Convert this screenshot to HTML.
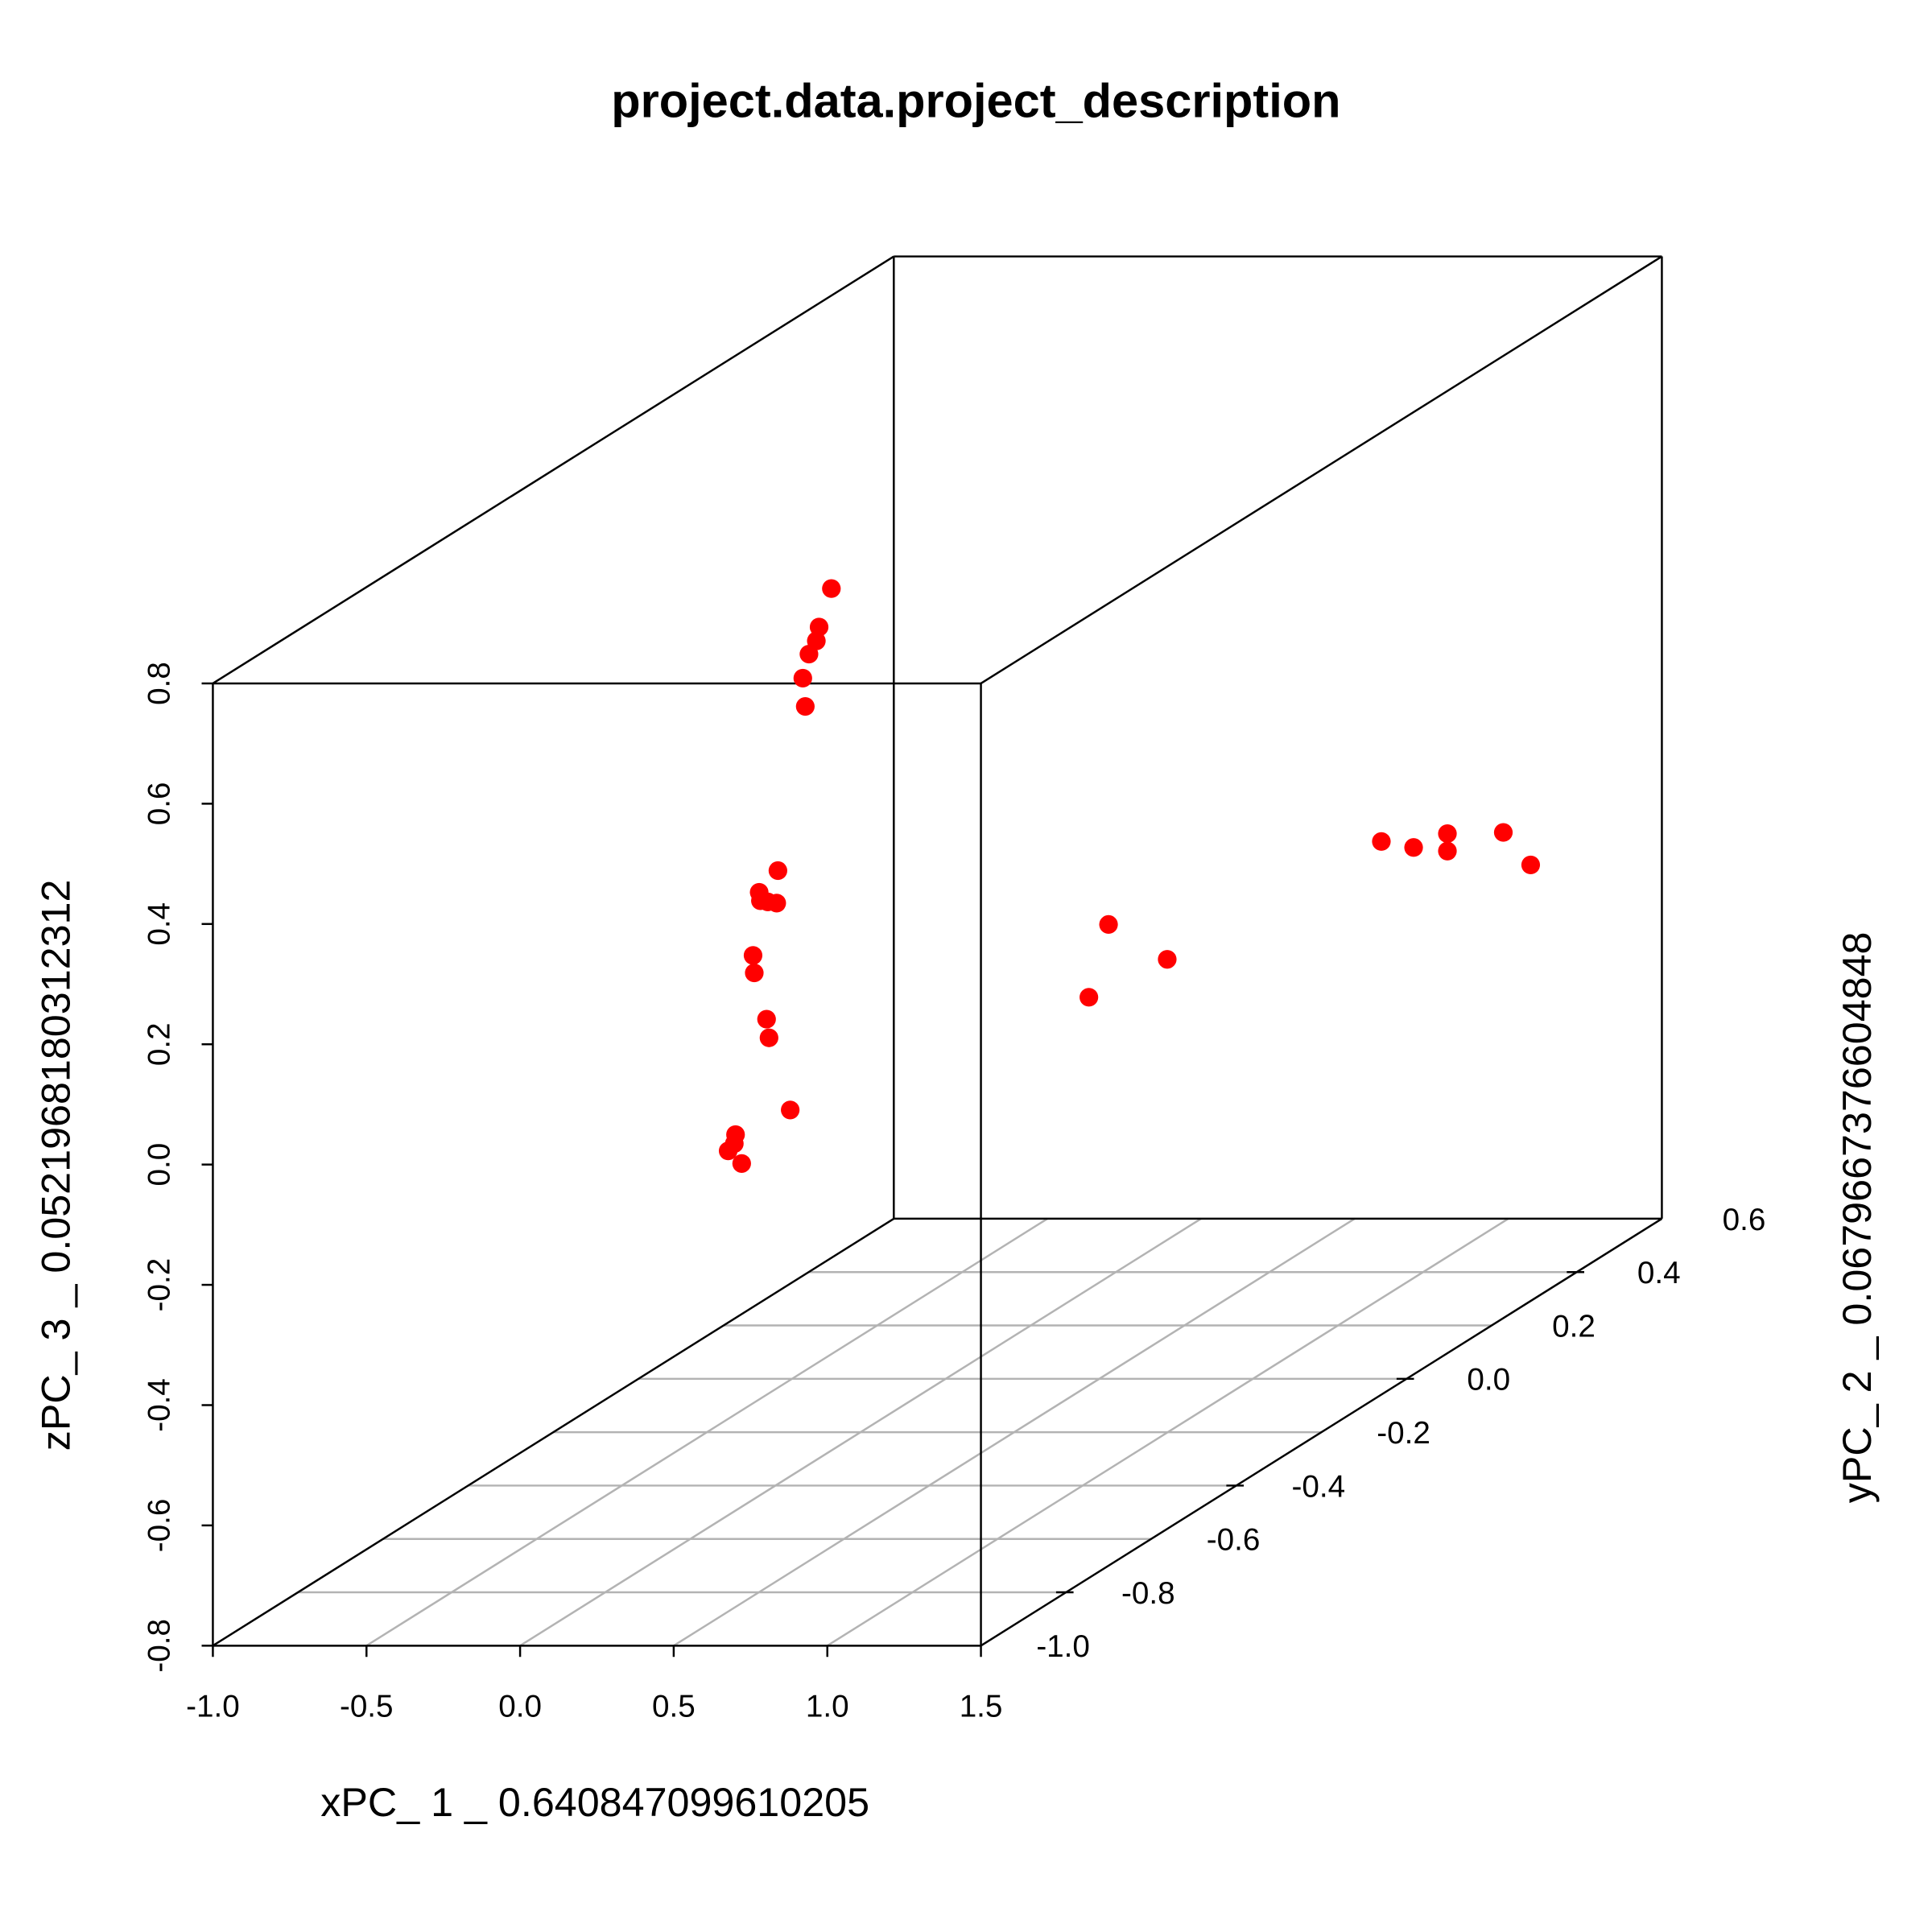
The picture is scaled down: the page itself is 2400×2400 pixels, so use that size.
<!DOCTYPE html>
<html><head><meta charset="utf-8"><style>
html,body{margin:0;padding:0;background:#fff;}
svg{display:block;font-family:"Liberation Sans",Arial,sans-serif;}
</style></head><body>
<svg id="chart" width="2400" height="2400" viewBox="0 0 1552 1552" xmlns="http://www.w3.org/2000/svg">
<rect width="1552" height="1552" fill="#fff"/>
<text x="784" y="94" text-anchor="middle" font-size="38.5" font-weight="bold">project.data.project_description</text>
<g id="grid" stroke="#b3b3b3" stroke-width="1.6"></g>
<g id="box" stroke="#000" stroke-width="1.6" fill="none"></g>
<g id="axes" font-size="25"></g>
<g id="points"></g>
<text x="478" y="1459" text-anchor="middle" font-size="32.5">xPC_ 1 _ 0.640847099610205</text>
<text transform="translate(56,936) rotate(-90)" text-anchor="middle" font-size="32.5">zPC_ 3 _ 0.0521968180312312</text>
<text transform="translate(1503,978) rotate(-90)" text-anchor="middle" font-size="32.5">yPC_ 2 _ 0.0679667376604848</text>
</svg>
<script>
const xTicks = [-1.0,-0.5,0.0,0.5,1.0,1.5];
const yTicks = [-1.0,-0.8,-0.6,-0.4,-0.2,0.0,0.2,0.4,0.6];
const zTicks = [-0.8,-0.6,-0.4,-0.2,0.0,0.2,0.4,0.6,0.8];
const xLabels = ["-1.0","-0.5","0.0","0.5","1.0","1.5"];
const yLabels = ["-1.0","-0.8","-0.6","-0.4","-0.2","0.0","0.2","0.4","0.6"];
const zLabels = ["-0.8","-0.6","-0.4","-0.2","0.0","0.2","0.4","0.6","0.8"];
const xVals = [-0.372,-0.412,-0.421,-0.445,-0.465,-0.457,-0.546,-0.607,-0.603,-0.579,-0.550,-0.627,-0.623,-0.583,-0.575,-0.506,-0.684,-0.688,-0.708,-0.664,0.864,0.969,1.079,1.079,1.261,1.350,-0.024,0.167,-0.088];
const yVals = [0,0,0,0,0,0,0,0,0,0,0,0,0,0,0,0,0,0,0,0,0.4,0.4,0.4,0.4,0.4,0.4,0.4,0.4,0.4];
const zVals = [0.514,0.450,0.427,0.405,0.365,0.318,0.045,0.009,-0.005,-0.007,-0.009,-0.096,-0.125,-0.202,-0.233,-0.353,-0.394,-0.409,-0.421,-0.442,-0.084,-0.094,-0.071,-0.100,-0.069,-0.123,-0.222,-0.280,-0.343];

const X0=171,X1=788,ZB=1322,ZT=549,DX=547,DY=-343;
const xMin=-1,xMax=1.5,yMin=-1,yMax=0.6,zMin=-0.8,zMax=0.8;
function px(x,y){return X0+(x-xMin)/(xMax-xMin)*(X1-X0)+(y-yMin)/(yMax-yMin)*DX;}
function py(z,y){return ZB-(z-zMin)/(zMax-zMin)*(ZB-ZT)+(y-yMin)/(yMax-yMin)*DY;}
const NS="http://www.w3.org/2000/svg";
function mk(tag,attrs,parent){const e=document.createElementNS(NS,tag);for(const k in attrs)e.setAttribute(k,attrs[k]);parent.appendChild(e);return e;}
const grid=document.getElementById('grid'),box=document.getElementById('box'),axes=document.getElementById('axes'),pts=document.getElementById('points');

for(let i=1;i<yTicks.length-1;i++){
  const y=yTicks[i];
  const l=mk('line',{x1:px(xMin,y),y1:py(zMin,y),x2:px(xMax,y),y2:py(zMin,y)},grid);
  
  
}
for(let i=1;i<xTicks.length-1;i++){
  const x=xTicks[i];
  const l=mk('line',{x1:px(x,yMin),y1:py(zMin,yMin),x2:px(x,yMax),y2:py(zMin,yMax)},grid);
  
  
}
const segs=[
 [[xMin,yMin,zMin],[xMax,yMin,zMin]],[[xMin,yMin,zMax],[xMax,yMin,zMax]],
 [[xMin,yMin,zMin],[xMin,yMin,zMax]],[[xMax,yMin,zMin],[xMax,yMin,zMax]],
 [[xMin,yMin,zMax],[xMin,yMax,zMax]],[[xMax,yMin,zMax],[xMax,yMax,zMax]],
 [[xMin,yMax,zMax],[xMax,yMax,zMax]],[[xMin,yMax,zMin],[xMax,yMax,zMin]],
 [[xMin,yMax,zMin],[xMin,yMax,zMax]],[[xMax,yMax,zMin],[xMax,yMax,zMax]],
 [[xMin,yMin,zMin],[xMin,yMax,zMin]],[[xMax,yMin,zMin],[xMax,yMax,zMin]]];
segs.forEach(s=>{
  const l=mk('line',{x1:px(s[0][0],s[0][1]),y1:py(s[0][2],s[0][1]),x2:px(s[1][0],s[1][1]),y2:py(s[1][2],s[1][1])},box);
  
  
});
xTicks.forEach((x,i)=>{
  const sx=px(x,yMin);
  const t=mk('line',{x1:sx,y1:ZB,x2:sx,y2:ZB+9,stroke:'#000','stroke-width':1.6},axes);
  
  
  const lb=mk('text',{x:sx,y:ZB+57,'text-anchor':'middle'},axes);
  lb.textContent=xLabels[i];
  
  
});
zTicks.forEach((z,i)=>{
  const sy=py(z,yMin);
  const t=mk('line',{x1:X0-9,y1:sy,x2:X0,y2:sy,stroke:'#000','stroke-width':1.6},axes);
  
  
  const lb=mk('text',{transform:`translate(136,${sy}) rotate(-90)`,'text-anchor':'middle'},axes);
  lb.textContent=zLabels[i];
  
  
});
yTicks.forEach((y,i)=>{
  const ex=px(xMax,y),ey=py(zMin,y);
  if(i%2===1){
    const t=mk('line',{x1:ex-8,y1:ey,x2:ex+6,y2:ey,stroke:'#000','stroke-width':1.6},axes);
    
    
  }
  const lb=mk('text',{x:ex+66,y:ey+9,'text-anchor':'middle'},axes);
  lb.textContent=yLabels[i];
  
  
});
for(let i=0;i<xVals.length;i++){
  const c=mk('circle',{cx:px(xVals[i],yVals[i]),cy:py(zVals[i],yVals[i]),r:7.5,fill:'#ff0000'},pts);
  
  
}
</script>
</body></html>
